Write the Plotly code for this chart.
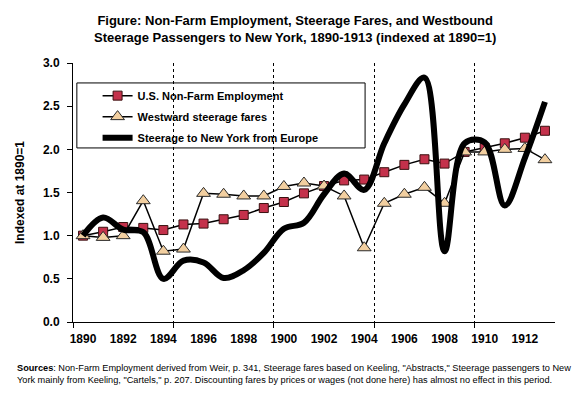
import plotly.graph_objects as go

years = list(range(1890, 1914))
employment = [1.00, 1.045, 1.10, 1.09, 1.065, 1.13, 1.14, 1.19, 1.24, 1.32, 1.39, 1.49,
              1.575, 1.64, 1.65, 1.735, 1.82, 1.885, 1.835, 1.97, 2.02, 2.07, 2.135, 2.215]
fares = [1.00, 0.98, 1.00, 1.405, 0.82, 0.845, 1.49, 1.48, 1.46, 1.46, 1.57, 1.61,
         1.575, 1.46, 0.86, 1.375, 1.48, 1.56, 1.375, 1.97, 1.97, 2.00, 2.01, 1.88]
steerage = [1.00, 1.21, 1.07, 1.04, 0.50, 0.71, 0.69, 0.51, 0.60, 0.80, 1.08, 1.15,
            1.48, 1.72, 1.53, 2.07, 2.52, 2.83, 0.82, 2.07, 2.08, 1.35, 1.90, 2.55]
tick_years = list(range(1890, 1913, 2))
y_ticks = [0.0, 0.5, 1.0, 1.5, 2.0, 2.5, 3.0]

FONT = "Arial, Liberation Sans, sans-serif"

fig = go.Figure()
fig.add_trace(go.Scatter(
    x=years, y=employment, name="U.S. Non-Farm Employment", mode="lines+markers",
    line=dict(color="black", width=1.5), legendgroup="a",
    marker=dict(symbol="square", size=9, color="#C4314B", line=dict(color="#3a1010", width=1))))
fig.add_trace(go.Scatter(
    x=years, y=fares, name="Westward steerage fares", mode="lines+markers",
    line=dict(color="black", width=1.5), legendgroup="b",
    marker=dict(symbol="triangle-up", size=12, color="#F2CFA0", line=dict(color="#2a2a2a", width=1))))
fig.add_trace(go.Scatter(
    x=years, y=steerage, name="Steerage to New York from Europe", mode="lines",
    line=dict(color="black", width=6, shape="spline", smoothing=1.0), legendgroup="c"))

fig.add_shape(type="rect", xref="paper", yref="paper",
              x0=0.008, x1=0.606, y0=0.672, y1=0.923,
              line=dict(color="black", width=1), fillcolor="white", layer="below")

fig.update_layout(
    width=567, height=381,
    margin=dict(l=57, r=20, t=55, b=67),
    paper_bgcolor="white", plot_bgcolor="rgba(0,0,0,0)",
    font=dict(family=FONT, color="black", size=12),
    showlegend=True,
    legend=dict(x=0.051, y=0.93, xanchor="left", yanchor="top",
                bgcolor="rgba(0,0,0,0)", borderwidth=0,
                tracegroupgap=2,
                font=dict(family=FONT, size=11, weight="bold", color="black")),
    xaxis=dict(range=[1889.5, 1913.5], tickvals=tick_years,
               ticktext=[str(t) for t in tick_years],
               ticks="", showgrid=False, zeroline=False,
               showline=True, linecolor="black", linewidth=1,
               ticklabelstandoff=6,
               tickfont=dict(family=FONT, size=12, weight="bold"),
               minor=dict(tick0=1889.5, dtick=5, ticks="outside", ticklen=5,
                          tickcolor="black", tickwidth=1,
                          showgrid=True, gridcolor="black", griddash="dot", gridwidth=1)),
    yaxis=dict(range=[0, 3], tickvals=y_ticks,
               ticktext=[f"{v:.1f}" for v in y_ticks],
               ticks="outside", ticklen=5, tickcolor="black",
               showgrid=False, zeroline=False,
               showline=True, linecolor="black", linewidth=1,
               ticklabelstandoff=5,
               tickfont=dict(family=FONT, size=12, weight="bold"),
               title=dict(text="Indexed at 1890=1", standoff=15,
                          font=dict(family=FONT, size=12, weight="bold"))),
)

fig.add_annotation(
    xref="paper", yref="paper", x=0.461, y=1.2, xanchor="center", yanchor="top",
    align="center", showarrow=False,
    font=dict(family=FONT, size=13, weight="bold", color="black"),
    text="Figure: Non-Farm Employment, Steerage Fares, and Westbound<br>"
         "Steerage Passengers to New York, 1890-1913 (indexed at 1890=1)")

fig.add_annotation(
    xref="paper", yref="paper", x=-0.12, y=-0.1525, xanchor="left", yanchor="top",
    align="left", showarrow=False,
    font=dict(family=FONT, size=9.2, color="black"),
    text="<b>Sources</b>: Non-Farm Employment derived from Weir, p. 341, Steerage fares based on Keeling, "
         "\"Abstracts,\" Steerage passengers to New<br>"
         "York mainly from Keeling, \"Cartels,\" p. 207. Discounting fares by prices or wages "
         "(not done here) has almost no effect in this period.")

fig.write_html("out.html")
